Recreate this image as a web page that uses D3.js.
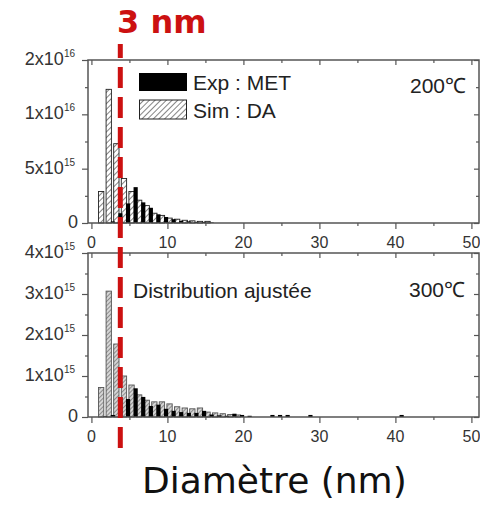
<!DOCTYPE html>
<html><head><meta charset="utf-8">
<script src="https://cdn.jsdelivr.net/npm/d3@7/dist/d3.min.js"></script>
<style>body{margin:0;background:#fff}</style>
</head><body><div id="chart"></div>
<script>
// ---- data (values in units of 1e15) ----
const diam200 = [1,2,3,4,5,6,7,8,9,10,11,12,13,14,15];
const sim200  = [2.9,12.3,7.3,4.1,2.9,2.1,1.6,0.9,0.7,0.45,0.35,0.25,0.2,0.15,0.15];
const exp200  = [0,0.15,0.9,1.8,3.3,1.9,1.4,0.8,0.55,0.35,0.2,0.15,0.1,0.1,0.05];

const diamSim300 = [1,2,3,4,5,6,7,8,9,10,11,12,13,14,15,16,17,18,19];
const sim300     = [0.72,3.07,1.78,1.0,0.78,0.54,0.41,0.37,0.37,0.32,0.25,0.22,0.2,0.22,0.12,0.1,0.08,0.06,0.05];
const diamExp300 = [1,2,3,4,5,6,7,8,9,10,11,12,13,14,15,16,17,18,19,20,23,24,25,28,40];
const exp300     = [0.02,0.05,0.48,0.44,0.7,0.49,0.27,0.3,0.2,0.15,0.12,0.1,0.1,0.15,0.06,0.04,0.03,0.08,0.05,0.03,0.05,0.05,0.05,0.05,0.05];

const xMajor = [0,10,20,30,40,50];
const xMinor = [5,15,25,35,45];
const yTicks200 = [0,5,10,15];
const yLabels200 = [["0",""],["5x10","15"],["1x10","16"],["2x10","16"]];
const yMinor200 = [2.5,7.5,12.5];
const yTicks300 = [0,1,2,3,4];
const yLabels300 = [["0",""],["1x10","15"],["2x10","15"],["3x10","15"],["4x10","15"]];
const yMinor300 = [0.5,1.5,2.5,3.5];
const legendLabels = ["Exp : MET","Sim : DA"];
const marker = 3.8; // "3 nm" line position

// ---- drawing ----
const W = 480, H = 508;
const svg = d3.select("#chart").append("svg").attr("width", W).attr("height", H);
const defs = svg.append("defs");
const p1 = defs.append("pattern").attr("id","hatch1").attr("patternUnits","userSpaceOnUse")
  .attr("width",4).attr("height",4).attr("patternTransform","rotate(45)");
p1.append("rect").attr("width",4).attr("height",4).attr("fill","#fff");
p1.append("line").attr("x1",0).attr("y1",0).attr("x2",0).attr("y2",4).attr("stroke","#333").attr("stroke-width",1.2);
const p2 = defs.append("pattern").attr("id","hatch2").attr("patternUnits","userSpaceOnUse")
  .attr("width",3).attr("height",3).attr("patternTransform","rotate(45)");
p2.append("rect").attr("width",3).attr("height",3).attr("fill","#d6d6d6");
p2.append("line").attr("x1",0).attr("y1",0).attr("x2",0).attr("y2",3).attr("stroke","#666").attr("stroke-width",1.3);

const x = d3.scaleLinear().domain([-0.45, 51]).range([88, 479]);
const simOff = 0.28, simW = 0.7, expOff = 0.82, expW = 0.55;
const font = "'Liberation Sans', Arial, sans-serif";

function panel(cfg) {
  const y = d3.scaleLinear().domain(cfg.domain).range(cfg.range);
  const g = svg.append("g");
  // bars
  g.selectAll("rect.sim").data(cfg.simD.map((d,i)=>({d, v:cfg.simV[i]}))).join("rect")
    .attr("x", d => x(d.d + simOff - simW/2)).attr("width", x(simW) - x(0))
    .attr("y", d => y(d.v)).attr("height", d => y(0) - y(d.v))
    .attr("fill", `url(#${cfg.pattern})`).attr("stroke", cfg.simStroke).attr("stroke-width", 0.9);
  g.selectAll("rect.exp").data(cfg.expD.map((d,i)=>({d, v:cfg.expV[i]})).filter(d=>d.v>0)).join("rect")
    .attr("x", d => x(d.d + expOff - expW/2)).attr("width", x(expW) - x(0))
    .attr("y", d => y(d.v)).attr("height", d => y(0) - y(d.v))
    .attr("fill", "#000");
  // frame
  const [y0, y1] = cfg.range;
  g.append("rect").attr("x", x.range()[0]).attr("y", y1).attr("width", x.range()[1]-x.range()[0])
    .attr("height", y0 - y1).attr("fill","none").attr("stroke","#555").attr("stroke-width",1.5);
  const style = sel => { sel.select(".domain").remove(); sel.selectAll("line").attr("stroke","#555").attr("stroke-width",1.2); };
  g.append("g").attr("transform",`translate(0,${y0})`).call(d3.axisBottom(x).tickValues(xMajor).tickSize(6).tickFormat("")).call(style);
  g.append("g").attr("transform",`translate(0,${y0})`).call(d3.axisBottom(x).tickValues(xMinor).tickSize(3).tickFormat("")).call(style);
  g.append("g").attr("transform",`translate(0,${y1})`).call(d3.axisTop(x).tickValues(xMajor).tickSize(-5).tickFormat("")).call(style);
  g.append("g").attr("transform",`translate(0,${y1})`).call(d3.axisTop(x).tickValues(xMinor).tickSize(-3).tickFormat("")).call(style);
  const xl = x.range()[0], xr = x.range()[1];
  g.append("g").attr("transform",`translate(${xl},0)`).call(d3.axisLeft(y).tickValues(cfg.yTicks).tickSize(6).tickFormat("")).call(style);
  g.append("g").attr("transform",`translate(${xl},0)`).call(d3.axisLeft(y).tickValues(cfg.yMinor).tickSize(3).tickFormat("")).call(style);
  g.append("g").attr("transform",`translate(${xr},0)`).call(d3.axisRight(y).tickValues(cfg.yTicks).tickSize(-5).tickFormat("")).call(style);
  g.append("g").attr("transform",`translate(${xr},0)`).call(d3.axisRight(y).tickValues(cfg.yMinor).tickSize(-3).tickFormat("")).call(style);
  // x labels
  g.selectAll("text.xl").data(xMajor).join("text")
    .attr("x", d => x(d)).attr("y", y0 + 25).attr("text-anchor","middle")
    .attr("font-family", font).attr("font-size", 16).attr("fill","#333").text(d => d);
  // y labels
  cfg.yTicks.forEach((t,i) => {
    const [base, sup] = cfg.yLabels[i];
    const tx = g.append("text").attr("x", sup ? 75 : 78).attr("y", y(t) + 5).attr("text-anchor","end")
      .attr("font-family", font).attr("font-size", 18).attr("fill","#333");
    tx.append("tspan").text(base);
    if (sup) tx.append("tspan").attr("font-size", 10).attr("dy", -8).text(sup);
  });
  return y;
}

panel({domain:[0,15], range:[223,60], simD:diam200, simV:sim200, expD:diam200, expV:exp200,
  pattern:"hatch1", simStroke:"#222", yTicks:yTicks200, yLabels:yLabels200, yMinor:yMinor200});
panel({domain:[0,4], range:[417,253], simD:diamSim300, simV:sim300, expD:diamExp300, expV:exp300,
  pattern:"hatch2", simStroke:"#555", yTicks:yTicks300, yLabels:yLabels300, yMinor:yMinor300});

// legend
svg.append("rect").attr("x",139).attr("y",73).attr("width",48).attr("height",18).attr("fill","#000");
svg.append("rect").attr("x",139.5).attr("y",100).attr("width",47).attr("height",19).attr("fill","url(#hatch1)").attr("stroke","#222");
svg.append("text").attr("x",193).attr("y",90).attr("font-family",font).attr("font-size",21).attr("fill","#222").text(legendLabels[0]);
svg.append("text").attr("x",193).attr("y",118).attr("font-family",font).attr("font-size",21).attr("fill","#222").text(legendLabels[1]);

// annotations
svg.append("text").attr("x",466).attr("y",93).attr("text-anchor","end").attr("font-family",font).attr("font-size",21).attr("fill","#222").text("200℃");
svg.append("text").attr("x",465).attr("y",297).attr("text-anchor","end").attr("font-family",font).attr("font-size",21).attr("fill","#222").text("300℃");
svg.append("text").attr("x",133).attr("y",298).attr("font-family",font).attr("font-size",21).attr("fill","#222").text("Distribution ajustée");

// red dashed marker
svg.append("line").attr("x1",x(marker)).attr("x2",x(marker)).attr("y1",44).attr("y2",456)
  .attr("stroke","#cc1111").attr("stroke-width",5).attr("stroke-dasharray","21 9").attr("stroke-dashoffset",7);
svg.append("text").attr("x",117).attr("y",33).attr("font-family","'DejaVu Sans', sans-serif").attr("font-weight","bold")
  .attr("font-size",32).attr("fill","#cc1111").text("3 nm");

// axis title
svg.append("text").attr("x",142).attr("y",493).attr("font-family","'DejaVu Sans', sans-serif")
  .attr("font-size",36).attr("fill","#111").text("Diamètre (nm)");
</script>
</body></html>
